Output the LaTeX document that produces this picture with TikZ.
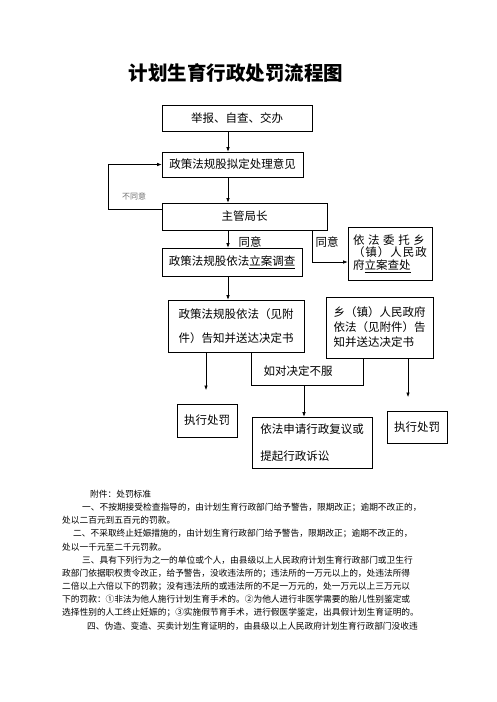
\documentclass[tikz,border=0pt]{standalone}
\usepackage{fontspec}
\setmainfont{Noto Sans CJK SC}
\usepackage{tikz}
\usetikzlibrary{arrows.meta,calc,positioning}
\tikzset{fontscale/.style = {font=\fontsize{11.5}{14}\selectfont}}
\tikzstyle{cbox}=[rectangle, draw, line width=0.6pt, inner sep=2pt, align=left, fontscale]
\tikzstyle{clabel}=[rectangle, inner sep=0pt, fontscale]
\tikzstyle{cnote}=[rectangle, anchor=west, inner sep=0pt, font=\fontsize{8.7}{10}\selectfont]

\begin{document}
\begin{tikzpicture}[x=1pt, y=-1pt, flow/.style={line width=0.6pt,-{Latex[length=4.5pt,width=3.5pt]}}, link/.style={line width=0.6pt}]

\fill[white] (0,0) rectangle (496,702);
\useasboundingbox (0,0) rectangle (496,702);

% title
\node[clabel, font=\fontsize{19.5}{22}\selectfont\bfseries] (title) at (236,73) {计划生育行政处罚流程图};

%dummy nodes
\coordinate (spine) at (228,0);
\coordinate (back) at (108,209);
\coordinate (turn) at (312,262);
\coordinate (d1) at (251,385);
\coordinate (d2) at (363,385);
\coordinate (e1) at (206,390);
\coordinate (e2) at (304,385);
\coordinate (e3) at (408,397);

\node[cbox, minimum width=150pt, minimum height=26pt] (report) at (237,118) {举报、自查、交办};
\node[cbox, minimum width=141pt, minimum height=25pt] (draft) at (232.5,164.5) {政策法规股拟定处理意见};
\node[cbox, minimum width=165pt, minimum height=27pt] (chief) at (244.5,216.5) {主管局长};
\node[cbox, minimum width=140pt, minimum height=28pt] (invest) at (232,262) {政策法规股依法\underline{立案调查}};
\node[cbox, minimum width=84pt, minimum height=53pt, font=\fontsize{11.5}{12.5}\selectfont] (entrust) at (390,253.5)
  {\makebox[72pt][s]{依\hfil 法\hfil 委\hfil 托\hfil 乡}\\
   \makebox[74pt][s]{（\hfil 镇\hfil ）\hfil 人\hfil 民\hfil 政}\\
   府\underline{立案查处}\hspace{14pt}};
\node[cbox, minimum width=136pt, minimum height=52pt, font=\fontsize{11.5}{24}\selectfont] (notify) at (236,326)
  {政策法规股依法（见附\\件）告知并送达决定书};
\node[cbox, minimum width=107pt, minimum height=61pt, font=\fontsize{11.5}{15}\selectfont] (town) at (379.5,327.5)
  {乡（镇）人民政府\\依法（见附件）告\\知并送达决定书};
\node[cbox, minimum width=60pt, minimum height=33pt] (exec1) at (207,420.5) {执行处罚};
\node[cbox, minimum width=120pt, minimum height=51pt, font=\fontsize{11.5}{27}\selectfont] (appeal) at (312,442.5)
  {依法申请行政复议或\\提起行政诉讼};
\node[cbox, minimum width=60pt, minimum height=32pt] (exec2) at (417,427) {执行处罚};

 % main links
  \draw[flow] (report.south -| spine) -- (draft.north -| spine);
  \draw[flow] (draft.south -| spine) -- (chief.north -| spine);
  \draw[flow] (chief.south -| spine) -- (invest.north -| spine);
  \draw[flow] (invest.south -| spine) -- (notify.north -| spine);

  \draw[flow] (chief.west |- back) -- (back) -- (back |- draft.west) -- (draft.west);
  \draw[flow] (chief.south -| turn) -- (turn) -- (turn -| entrust.west);

 % objection
  \draw[link] (notify.south -| d1) -- (d1) -- (d2) -- (town.south -| d2);
  \draw[flow] (notify.south -| e1) -- (e1);
  \draw[flow] (e2) -- (e2 |- appeal.north);
  \draw[flow] (town.south -| e3) -- (e3);

 % Legends
  \node[clabel, font=\fontsize{8}{9}\selectfont, text=black!55] (refuse) at (134,196) {不同意};
  \node[clabel] (agree1) at (250,242) {同意};
  \node[clabel] (agree2) at (327,242) {同意};
  \node[clabel] (doubt) at (298,371) {如对决定不服};

 % attachment
  \node[cnote] (n0) at (90,494) {附件：处罚标准};
  \node[cnote] (n1) at (82,507.2) {一、不按期接受检查指导的，由计划生育行政部门给予警告，限期改正；逾期不改正的，};
  \node[cnote] (n2) at (62,520.4) {处以二百元到五百元的罚款。};
  \node[cnote] (n3) at (73,533.6) {二、不采取终止妊娠措施的，由计划生育行政部门给予警告，限期改正；逾期不改正的，};
  \node[cnote] (n4) at (62,546.8) {处以一千元至二千元罚款。};
  \node[cnote] (n5) at (82,560) {三、具有下列行为之一的单位或个人，由县级以上人民政府计划生育行政部门或卫生行};
  \node[cnote] (n6) at (62,573.2) {政部门依据职权责令改正，给予警告，没收违法所的；违法所的一万元以上的，处违法所得};
  \node[cnote] (n7) at (62,586.4) {二倍以上六倍以下的罚款；没有违法所的或违法所的不足一万元的，处一万元以上三万元以};
  \node[cnote] (n8) at (62,599.6) {下的罚款：①非法为他人施行计划生育手术的。②为他人进行非医学需要的胎儿性别鉴定或};
  \node[cnote] (n9) at (62,612.8) {选择性别的人工终止妊娠的；③实施假节育手术，进行假医学鉴定，出具假计划生育证明的。};
  \node[cnote] (n10) at (87,626) {四、伪造、变造、买卖计划生育证明的，由县级以上人民政府计划生育行政部门没收违};
\end{tikzpicture}
\end{document}
